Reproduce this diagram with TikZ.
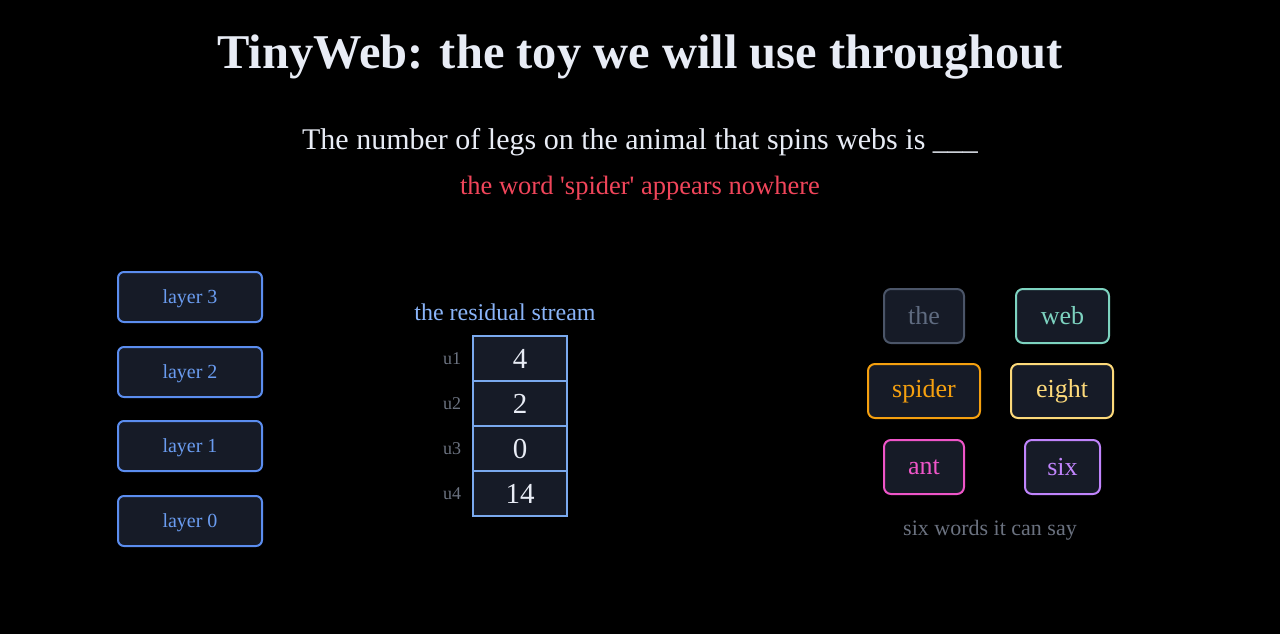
\documentclass[tikz,border=0pt]{standalone}
\usepackage{fontspec}
\setmainfont{Liberation Serif}
\newfontfamily\plainserif{Liberation Serif}[Ligatures=TeXOff]
\definecolor{bg}{HTML}{000000}
\definecolor{boxfill}{HTML}{161B27}
\definecolor{layblue}{HTML}{5B8DEF}
\definecolor{laytext}{HTML}{6A9CF0}
\definecolor{resblue}{HTML}{8AB4F8}
\definecolor{cellline}{HTML}{7AA9EE}
\definecolor{titlec}{HTML}{E8ECF5}
\definecolor{redc}{HTML}{F0455A}
\definecolor{grayc}{HTML}{6B7280}
\definecolor{thec}{HTML}{4B5568}
\definecolor{thetext}{HTML}{5F6B80}
\definecolor{webc}{HTML}{7DD3C0}
\definecolor{spiderc}{HTML}{F5A00F}
\definecolor{eightc}{HTML}{FCD97A}
\definecolor{antc}{HTML}{EE55C8}
\definecolor{sixc}{HTML}{C084FC}
\tikzset{
  layerbox/.style={draw=layblue, line width=2pt, fill=boxfill, rounded corners=6pt,
    minimum width=144pt, minimum height=50pt, text=laytext, font=\fontsize{20}{24}\selectfont,
    text height=12pt, text depth=0pt},
  cellbox/.style={draw=cellline, line width=1.5pt, fill=boxfill, minimum width=94pt,
    minimum height=45pt, text=titlec, font=\fontsize{29}{34}\selectfont, inner sep=0pt},
  ulabel/.style={text=grayc, font=\fontsize{18}{22}\selectfont},
  tokbox/.style={line width=2pt, fill=boxfill, rounded corners=7pt, minimum height=54pt,
    inner sep=0pt, font=\fontsize{26}{30}\selectfont},
}
\begin{document}
\begin{tikzpicture}[x=1pt,y=-1pt]
\fill[bg] (0,0) rectangle (1280,634);
\useasboundingbox (0,0) rectangle (1280,634);
\node[text=titlec, font=\bfseries\fontsize{48.5}{56}\selectfont] (title) at (640,57) {TinyWeb: the toy we will use throughout};
\node[text=titlec, font=\fontsize{30}{36}\selectfont] (prompt) at (640,142) {The number of legs on the animal that spins webs is \_\_\_};
\node[text=redc, font=\plainserif\fontsize{26.5}{31}\selectfont] (note) at (640,188) {the word 'spider' appears nowhere};

\node[layerbox] (l3) at (190,297) {layer 3};
\node[layerbox] (l2) at (190,372) {layer 2};
\node[layerbox] (l1) at (190,446) {layer 1};
\node[layerbox] (l0) at (190,521) {layer 0};

\node[text=resblue, font=\fontsize{24}{28}\selectfont] (rs) at (505,312) {the residual stream};
\node[cellbox] (c1) at (520,358.5) {4};
\node[cellbox] (c2) at (520,403.5) {2};
\node[cellbox] (c3) at (520,448.5) {0};
\node[cellbox] (c4) at (520,493.5) {14};
\node[ulabel] (u1) at (452,358.5) {u1};
\node[ulabel] (u2) at (452,403.5) {u2};
\node[ulabel] (u3) at (452,448.5) {u3};
\node[ulabel] (u4) at (452,493.5) {u4};

\node[tokbox, draw=thec, text=thetext, minimum width=80pt] (the) at (924,316) {the};
\node[tokbox, draw=webc, text=webc, minimum width=93pt] (web) at (1062.5,316) {web};
\node[tokbox, draw=spiderc, text=spiderc, minimum width=112pt] (spider) at (924,391) {spider};
\node[tokbox, draw=eightc, text=eightc, minimum width=102pt] (eight) at (1062,391) {eight};
\node[tokbox, draw=antc, text=antc, minimum width=80pt] (ant) at (924,467) {ant};
\node[tokbox, draw=sixc, text=sixc, minimum width=75pt] (six) at (1062.5,467) {six};
\node[text=grayc, font=\fontsize{22}{26}\selectfont] (six words) at (990,530) {six words it can say};
\end{tikzpicture}
\end{document}
